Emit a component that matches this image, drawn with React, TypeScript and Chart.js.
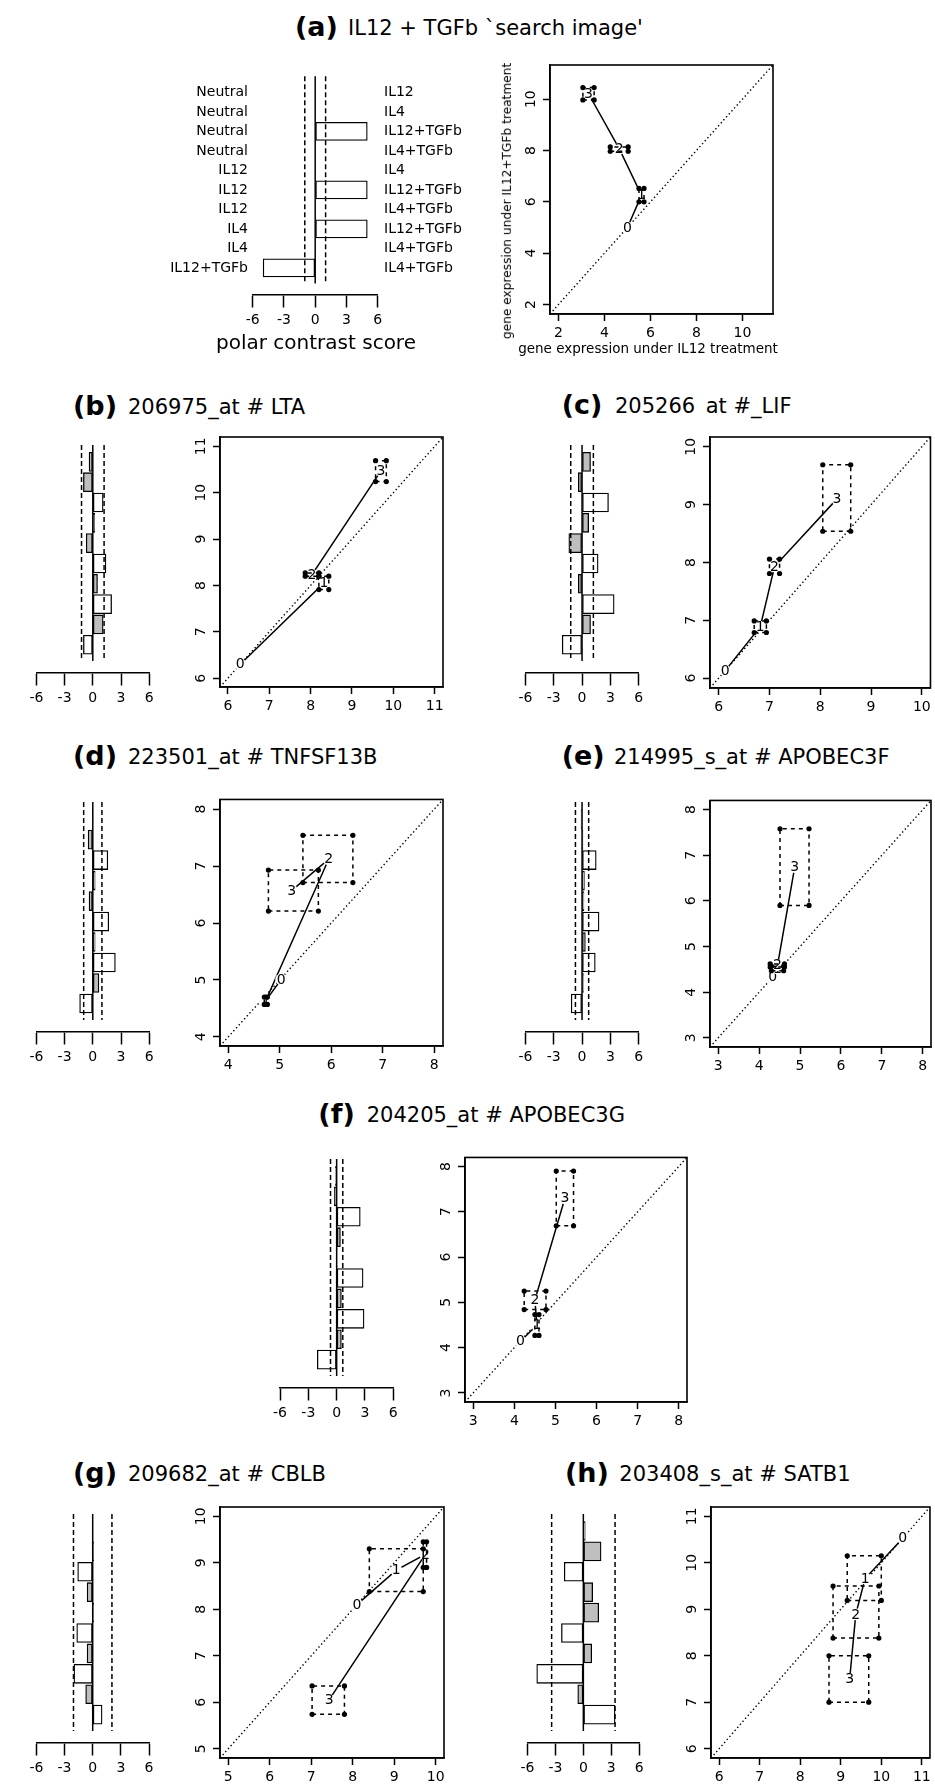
import React, { useEffect, useRef } from "react";
import { Chart, registerables } from "chart.js";

Chart.register(...registerables);

const FAMILY = "'DejaVu Sans', sans-serif";

/* ---------------- polar contrast bar panels ---------------- */
const ROW_LEFT = ["Neutral", "Neutral", "Neutral", "Neutral", "IL12", "IL12", "IL12", "IL4", "IL4", "IL12+TGFb"];
const ROW_RIGHT = ["IL12", "IL4", "IL12+TGFb", "IL4+TGFb", "IL4", "IL12+TGFb", "IL4+TGFb", "IL12+TGFb", "IL4+TGFb", "IL4+TGFb"];
const ROWS = [1, 2, 3, 4, 5, 6, 7, 8, 9, 10];
const ROW_SHADED = [true, true, false, true, true, false, true, false, true, false];
const BAR_TICKS = [-6, -3, 0, 3, 6];
const ROW_MIN = 0.17;
const ROW_MAX = 10.8;

const SCORE_A = [0, 0, 5, 0, 0, 5, 0, 5, 0, -5];
const SCORE_B = [-0.4, -1.0, 1.1, 0.2, -0.7, 1.4, 0.5, 2.0, 1.1, -1.0];
const SCORE_C = [0.9, -0.4, 2.8, 0.7, -1.4, 1.7, -0.4, 3.4, 0.9, -2.1];
const SCORE_D = [-0.05, -0.5, 1.6, 0.25, -0.4, 1.7, 0.25, 2.4, 0.65, -1.4];
const SCORE_E = [-0.1, 0.1, 1.5, 0.25, 0.2, 1.8, 0.35, 1.4, 0.15, -1.15];
const SCORE_F = [-0.15, -0.25, 2.5, 0.4, 0.05, 2.8, 0.5, 2.9, 0.5, -2.05];
const SCORE_G = [0, 0.1, -1.6, -0.6, 0.1, -1.7, -0.6, -2.0, -0.75, 1.0];
const SCORE_H = [0.2, 1.9, -2.05, 1.0, 1.65, -2.35, 0.9, -5.0, -0.6, 3.4];

const CUT_A = 1.0;
const CUT_B = 1.2;
const CUT_C = 1.2;
const CUT_D = 0.97;
const CUT_E = 0.7;
const CUT_F = 0.65;
const CUT_G = 2.05;
const CUT_H = 3.4;

/* ---------------- expression trajectory panels ---------------- */
const GROUP_LABELS = ["0", "1", "2", "3"];

const PATH_A = [[5.0, 5.0], [5.61, 6.26], [4.64, 8.07], [3.3, 10.22]];
const BOX_A = [null, [5.5, 5.72, 6.0, 6.52], [4.25, 5.03, 7.97, 8.14], [3.06, 3.55, 9.97, 10.45]];
const LIM_A = [1.63, 11.33];
const TICKS_A = [2, 4, 6, 8, 10];

const PATH_B = [[6.3, 6.3], [8.32, 8.05], [8.03, 8.23], [9.7, 10.47]];
const BOX_B = [null, [8.2, 8.44, 7.91, 8.2], [7.87, 8.2, 8.2, 8.27], [9.57, 9.83, 10.24, 10.69]];
const LIM_B = [5.81, 11.2];
const TICKS_B = [6, 7, 8, 9, 10, 11];

const PATH_C = [[6.13, 6.13], [6.82, 6.89], [7.1, 7.93], [8.33, 9.1]];
const BOX_C = [null, [6.7, 6.94, 6.79, 6.99], [7.0, 7.2, 7.81, 8.06], [8.05, 8.6, 8.54, 9.69]];
const LIM_C = [5.83, 10.17];
const TICKS_C = [6, 7, 8, 9, 10];

const PATH_D = [[5.03, 5.01], [4.73, 4.64], [5.95, 7.12], [5.23, 6.57]];
const BOX_D = [null, [4.7, 4.76, 4.57, 4.7], [5.45, 6.42, 6.71, 7.54], [4.78, 5.75, 6.21, 6.93]];
const LIM_D = [3.84, 8.17];
const TICKS_D = [4, 5, 6, 7, 8];

const PATH_E = [[4.33, 4.33], [4.45, 4.52], [4.45, 4.59], [4.87, 6.74]];
const BOX_E = [null, [4.3, 4.6, 4.47, 4.57], [4.27, 4.62, 4.55, 4.62], [4.51, 5.22, 5.9, 7.58]];
const LIM_E = [2.8, 8.2];
const TICKS_E = [3, 4, 5, 6, 7, 8];

const PATH_F = [[4.15, 4.14], [4.55, 4.5], [4.5, 5.05], [5.23, 7.3]];
const BOX_F = [null, [4.5, 4.6, 4.27, 4.73], [4.24, 4.77, 4.84, 5.25], [5.02, 5.44, 6.69, 7.9]];
const LIM_F = [2.8, 8.2];
const TICKS_F = [3, 4, 5, 6, 7, 8];

const PATH_G = [[8.1, 8.1], [9.05, 8.84], [9.75, 9.18], [7.43, 6.05]];
const BOX_G = [null, [8.4, 9.7, 8.38, 9.3], [9.7, 9.78, 8.9, 9.45], [7.02, 7.8, 5.74, 6.35]];
const LIM_G = [4.8, 10.2];
const TICKS_G = [5, 6, 7, 8, 9, 10];

const PATH_H = [[10.53, 10.53], [9.6, 9.66], [9.37, 8.89], [9.22, 7.5]];
const BOX_H = [null, [9.16, 10.0, 9.19, 10.15], [8.81, 9.94, 8.38, 9.5], [8.71, 9.69, 7.0, 8.0]];
const LIM_H = [5.8, 11.2];
const TICKS_H = [6, 7, 8, 9, 10, 11];

/* ---------------- helpers ---------------- */
function fitBox(left: number, top: number, w: number, h: number, eL: number, eT: number, eR: number, eB: number) {
  const cl = Math.floor(left - eL);
  const ct = Math.floor(top - eT);
  const cr = Math.ceil(left + w + eR);
  const cb = Math.ceil(top + h + eB);
  return {
    cl, ct, cw: cr - cl, ch: cb - ct,
    padL: left - cl, padT: top - ct, padR: cr - (left + w), padB: cb - (top + h),
  };
}

const framePlugin = {
  id: "frameBox",
  afterDraw(chart: any) {
    const { left, top, right, bottom } = chart.chartArea;
    const ctx = chart.ctx;
    ctx.save();
    ctx.strokeStyle = "#000";
    ctx.lineWidth = 1.6;
    ctx.strokeRect(left, top, right - left, bottom - top);
    ctx.restore();
  },
};

const groupLabelPlugin = {
  id: "groupLabels",
  afterDatasetDraw(chart: any, args: any) {
    const ds: any = chart.data.datasets[args.index];
    if (!ds || !ds.groupLabels) return;
    const ctx = chart.ctx;
    const xs = chart.scales.x;
    const ys = chart.scales.y;
    ctx.save();
    ctx.font = `14px ${FAMILY}`;
    ctx.textAlign = "center";
    ctx.textBaseline = "middle";
    ds.data.forEach((pt: any, i: number) => {
      const px = xs.getPixelForValue(pt.x);
      const py = ys.getPixelForValue(pt.y);
      ctx.fillStyle = "#fff";
      ctx.beginPath();
      ctx.arc(px, py, 6, 0, Math.PI * 2);
      ctx.fill();
      ctx.fillStyle = "#000";
      ctx.fillText(ds.groupLabels[i], px, py + 0.5);
    });
    ctx.restore();
  },
};

/* ---------------- bar panel ---------------- */
function BarPanel(props: any) {
  const { x0, w, top, bottom, scores, cutoff, barPx, sideLabels } = props;
  const ref = useRef<HTMLCanvasElement>(null);
  const h = bottom - top;
  const f = sideLabels
    ? fitBox(x0, top, w, h, 102.7, 9, 102.3, 40)
    : fitBox(x0, top, w, h, 14, 2, 14, 42);

  useEffect(() => {
    const tickFont = { family: FAMILY, size: 14 };
    const vline = (x: number, dash: number[]) => ({
      type: "line",
      data: [{ x, y: ROW_MIN }, { x, y: ROW_MAX }],
      borderColor: "#000",
      borderWidth: 1.5,
      borderDash: dash,
      pointRadius: 0,
      order: 1,
    });
    const scales: any = {
      x: {
        type: "linear",
        min: -6,
        max: 6,
        bounds: "data",
        position: "bottom",
        afterBuildTicks: (s: any) => { s.ticks = BAR_TICKS.map((v) => ({ value: v })); },
        afterFit: (s: any) => { s.height = f.padB; },
        grid: { drawOnChartArea: false, drawTicks: true, tickLength: 12.5, tickWidth: 1.5, tickColor: "#000" },
        border: { display: true, color: "#000", width: 1.6 },
        ticks: { font: tickFont, color: "#000", padding: 4.6, autoSkip: false, maxRotation: 0, minRotation: 0, callback: (v: any) => String(v) },
      },
      y: {
        type: "linear",
        min: ROW_MIN,
        max: ROW_MAX,
        reverse: true,
        bounds: "data",
        position: "left",
        display: !!sideLabels,
        afterBuildTicks: (s: any) => { s.ticks = ROWS.map((v) => ({ value: v })); },
        afterFit: (s: any) => { s.width = f.padL; },
        grid: { display: false, drawTicks: false },
        border: { display: false },
        ticks: { font: tickFont, color: "#000", padding: 4.7, autoSkip: false, callback: (v: any) => ROW_LEFT[ROWS.indexOf(v)] },
      },
    };
    if (sideLabels) {
      scales.y2 = {
        type: "linear",
        min: ROW_MIN,
        max: ROW_MAX,
        reverse: true,
        bounds: "data",
        position: "right",
        afterBuildTicks: (s: any) => { s.ticks = ROWS.map((v) => ({ value: v })); },
        afterFit: (s: any) => { s.width = f.padR; },
        grid: { display: false, drawTicks: false },
        border: { display: false },
        ticks: { font: tickFont, color: "#000", padding: 6.3, autoSkip: false, callback: (v: any) => ROW_RIGHT[ROWS.indexOf(v)] },
      };
    }
    const chart = new Chart(ref.current as HTMLCanvasElement, {
      type: "bar",
      data: {
        datasets: [
          {
            type: "bar",
            data: ROWS.map((r, i) => ({ x: scores[i], y: r })),
            backgroundColor: ROW_SHADED.map((s) => (s ? "#bebebe" : "#ffffff")),
            borderColor: "#000",
            borderWidth: 1.3,
            borderSkipped: false,
            barThickness: barPx,
            order: 2,
          } as any,
          vline(0, []) as any,
          vline(-cutoff, [5, 3]) as any,
          vline(cutoff, [5, 3]) as any,
        ],
      },
      options: {
        indexAxis: "y",
        animation: false,
        responsive: false,
        devicePixelRatio: 1,
        layout: sideLabels
          ? { padding: { left: 0, right: 0, top: f.padT, bottom: 0 } }
          : { padding: { left: f.padL, right: f.padR, top: f.padT, bottom: 0 } },
        plugins: { legend: { display: false }, tooltip: { enabled: false }, title: { display: false } },
        scales,
      } as any,
    });
    return () => chart.destroy();
  }, []);

  return (
    <canvas
      ref={ref}
      width={f.cw}
      height={f.ch}
      style={{ position: "absolute", left: f.cl, top: f.ct, width: f.cw, height: f.ch }}
    />
  );
}

/* ---------------- scatter panel ---------------- */
function ScatterPanel(props: any) {
  const { L, T, W, H, lim, ticks, path, boxes } = props;
  const ref = useRef<HTMLCanvasElement>(null);
  const eR = Math.min(6, 935 - (L + W));
  const f = fitBox(L, T, W, H, 45, 6, eR, 36);
  const maxChars = Math.max(...ticks.map((t: number) => String(t).length));
  const yPad = 11.5 - maxChars * 4.45;

  useEffect(() => {
    const tickFont = { family: FAMILY, size: 14 };
    const datasets: any[] = [];
    datasets.push({
      data: [{ x: lim[0], y: lim[0] }, { x: lim[1], y: lim[1] }],
      showLine: true,
      borderColor: "#000",
      borderWidth: 1.4,
      borderDash: [1.4, 2.6],
      pointRadius: 0,
      order: 10,
    });
    datasets.push({
      data: path.map((p: number[]) => ({ x: p[0], y: p[1] })),
      showLine: true,
      borderColor: "#000",
      borderWidth: 1.5,
      pointRadius: 0,
      order: 9,
      groupLabels: GROUP_LABELS,
    });
    const corners: any[] = [];
    boxes.forEach((b: number[] | null) => {
      if (!b) return;
      const [x0, x1, y0, y1] = b;
      datasets.push({
        data: [{ x: x0, y: y0 }, { x: x1, y: y0 }, { x: x1, y: y1 }, { x: x0, y: y1 }, { x: x0, y: y0 }],
        showLine: true,
        borderColor: "#000",
        borderWidth: 1.5,
        borderDash: [4, 4],
        pointRadius: 0,
        order: 5,
      });
      corners.push({ x: x0, y: y0 }, { x: x1, y: y0 }, { x: x0, y: y1 }, { x: x1, y: y1 });
    });
    datasets.push({
      data: corners,
      showLine: false,
      pointRadius: 2.6,
      pointBackgroundColor: "#000",
      pointBorderWidth: 0,
      order: 1,
    });

    const axisCommon = (axisTicks: number[]) => ({
      type: "linear",
      min: lim[0],
      max: lim[1],
      bounds: "data",
      afterBuildTicks: (s: any) => { s.ticks = axisTicks.map((v) => ({ value: v })); },
      grid: { drawOnChartArea: false, drawTicks: true, tickLength: 7, tickWidth: 1.5, tickColor: "#000" },
      border: { display: true, color: "#000", width: 1.6 },
    });

    const chart = new Chart(ref.current as HTMLCanvasElement, {
      type: "scatter",
      data: { datasets },
      options: {
        animation: false,
        responsive: false,
        devicePixelRatio: 1,
        layout: { padding: { left: 0, right: f.padR, top: f.padT, bottom: 0 } },
        plugins: { legend: { display: false }, tooltip: { enabled: false } },
        scales: {
          x: {
            ...axisCommon(ticks),
            position: "bottom",
            afterFit: (s: any) => { s.height = f.padB; },
            ticks: { font: tickFont, color: "#000", padding: 4.1, autoSkip: false, maxRotation: 0, minRotation: 0, callback: (v: any) => String(v) },
          },
          y: {
            ...axisCommon(ticks),
            position: "left",
            afterFit: (s: any) => { s.width = f.padL; },
            ticks: { font: tickFont, color: "#000", padding: yPad, autoSkip: false, minRotation: 90, maxRotation: 90, crossAlign: "center", callback: (v: any) => String(v) },
          },
        },
      } as any,
      plugins: [groupLabelPlugin, framePlugin] as any,
    });
    return () => chart.destroy();
  }, []);

  return (
    <canvas
      ref={ref}
      width={f.cw}
      height={f.ch}
      style={{ position: "absolute", left: f.cl, top: f.ct, width: f.cw, height: f.ch }}
    />
  );
}

/* ---------------- text ---------------- */
function BaseText(props: any) {
  const { x, base, size, bold, text } = props;
  return (
    <div
      style={{
        position: "absolute",
        left: x,
        top: base - 0.846 * size,
        fontFamily: FAMILY,
        fontSize: size,
        lineHeight: `${size}px`,
        fontWeight: bold ? "bold" : "normal",
        whiteSpace: "pre",
        color: "#000",
      }}
    >
      {text}
    </div>
  );
}

function PanelTitle(props: any) {
  const { tag, text, xTag, xText, base } = props;
  return (
    <>
      <BaseText x={xTag} base={base} size={27} bold text={tag} />
      <BaseText x={xText} base={base} size={21} text={text} />
    </>
  );
}

function CenterText(props: any) {
  const { cx, cy, size, text, rotate } = props;
  return (
    <div
      style={{
        position: "absolute",
        left: cx,
        top: cy,
        transform: `translate(-50%, -50%)${rotate ? " rotate(-90deg)" : ""}`,
        fontFamily: FAMILY,
        fontSize: size,
        lineHeight: `${size}px`,
        whiteSpace: "pre",
        color: "#000",
      }}
    >
      {text}
    </div>
  );
}

export default function App() {
  return (
    <div style={{ position: "absolute", left: 0, top: 0, width: 935, height: 1785, overflow: "hidden", background: "#fff" }}>
      {/* (a) */}
      <PanelTitle tag="(a)" text={"IL12 + TGFb `search image'"} xTag={295} xText={348} base={36} />
      <BarPanel x0={252.7} w={125} top={59} bottom={295} scores={SCORE_A} cutoff={CUT_A} barPx={18} sideLabels />
      <CenterText cx={316} cy={342} size={20} text="polar contrast score" />
      <ScatterPanel L={550} T={60} W={223} H={254} lim={LIM_A} ticks={TICKS_A} path={PATH_A} boxes={BOX_A} />
      <CenterText cx={648} cy={349} size={13.5} text="gene expression under IL12 treatment" />
      <CenterText cx={506.5} cy={201} size={12.2} text="gene expression under IL12+TGFb treatment" rotate />

      {/* (b) */}
      <PanelTitle tag="(b)" text="206975_at # LTA" xTag={73} xText={128} base={415} />
      <BarPanel x0={21.7} w={127.5} top={433} bottom={673} scores={SCORE_B} cutoff={CUT_B} barPx={19} />
      <ScatterPanel L={220} T={432} W={223} H={255} lim={LIM_B} ticks={TICKS_B} path={PATH_B} boxes={BOX_B} />

      {/* (c) */}
      <PanelTitle tag="(c)" text={"205266\u2002at #_LIF"} xTag={561.7} xText={615} base={414} />
      <BarPanel x0={510.7} w={128} top={433} bottom={673} scores={SCORE_C} cutoff={CUT_C} barPx={19} />
      <ScatterPanel L={710} T={432} W={223} H={256} lim={LIM_C} ticks={TICKS_C} path={PATH_C} boxes={BOX_C} />

      {/* (d) */}
      <PanelTitle tag="(d)" text="223501_at # TNFSF13B" xTag={73} xText={128} base={765} />
      <BarPanel x0={21.7} w={127.5} top={790} bottom={1032} scores={SCORE_D} cutoff={CUT_D} barPx={19} />
      <ScatterPanel L={220} T={790} W={223} H={256} lim={LIM_D} ticks={TICKS_D} path={PATH_D} boxes={BOX_D} />

      {/* (e) */}
      <PanelTitle tag="(e)" text="214995_s_at # APOBEC3F" xTag={561.7} xText={614} base={765} />
      <BarPanel x0={510.7} w={128} top={790} bottom={1032} scores={SCORE_E} cutoff={CUT_E} barPx={19} />
      <ScatterPanel L={710} T={791} W={223} H={256} lim={LIM_E} ticks={TICKS_E} path={PATH_E} boxes={BOX_E} />

      {/* (f) */}
      <PanelTitle tag="(f)" text="204205_at # APOBEC3G" xTag={318.3} xText={366.7} base={1123} />
      <BarPanel x0={266} w={127.3} top={1147} bottom={1388} scores={SCORE_F} cutoff={CUT_F} barPx={19} />
      <ScatterPanel L={465} T={1148} W={222} H={254} lim={LIM_F} ticks={TICKS_F} path={PATH_F} boxes={BOX_F} />

      {/* (g) */}
      <PanelTitle tag="(g)" text="209682_at # CBLB" xTag={73} xText={128} base={1481.7} />
      <BarPanel x0={21.7} w={127.3} top={1502} bottom={1743} scores={SCORE_G} cutoff={CUT_G} barPx={19} />
      <ScatterPanel L={220} T={1502} W={224} H={256} lim={LIM_G} ticks={TICKS_G} path={PATH_G} boxes={BOX_G} />

      {/* (h) */}
      <PanelTitle tag="(h)" text="203408_s_at # SATB1" xTag={565} xText={619.3} base={1481.7} />
      <BarPanel x0={512.7} w={126.6} top={1502} bottom={1743} scores={SCORE_H} cutoff={CUT_H} barPx={19} />
      <ScatterPanel L={711} T={1502} W={223} H={256} lim={LIM_H} ticks={TICKS_H} path={PATH_H} boxes={BOX_H} />
    </div>
  );
}
